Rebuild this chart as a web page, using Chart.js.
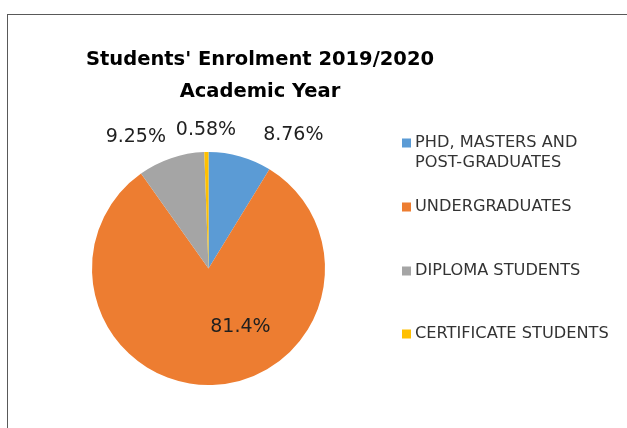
<!DOCTYPE html>
<html>
<head>
<meta charset="utf-8">
<script src="https://cdn.jsdelivr.net/npm/chart.js@4"></script>
<style>
    html, body { margin: 0; padding: 0; background: #fff; }
    #wrap { width: 627px; height: 428px; position: relative; }
</style>
</head>
<body>
<div id="wrap"><canvas id="enrolChart" width="627" height="428"></canvas></div>
<script>
// Dane wykresu
const titleLines = ["Students' Enrolment 2019/2020", 'Academic Year'];
const categories = [
    ['PHD, MASTERS AND', 'POST-GRADUATES'],
    ['UNDERGRADUATES'],
    ['DIPLOMA STUDENTS'],
    ['CERTIFICATE STUDENTS']
];
const shares = [8.76, 81.4, 9.25, 0.58];
const shareLabels = ['8.76%', '81.4%', '9.25%', '0.58%'];
const sliceColors = ['#5B9BD5', '#ED7D31', '#A5A5A5', '#FFC000'];

// Styl etykiet (inside / outside) i drobne przesunięcia jak w Excelu
const labelPlacement = ['outside', 'inside', 'outside', 'outside'];
const labelNudge = [[17, 0], [30, 0], [2, 0], [0, 0]];

const FONT = '"DejaVu Sans", sans-serif';

const excelDecor = {
    id: 'excelDecor',
    afterDraw(chart) {
        const ctx = chart.ctx;
        ctx.save();

        // Ramka obszaru wykresu
        ctx.strokeStyle = '#595959';
        ctx.lineWidth = 1;
        ctx.strokeRect(7.5, 14.5, 700, 500);

        // Tytuł
        ctx.fillStyle = '#000';
        ctx.font = 'bold 19.5px ' + FONT;
        ctx.textAlign = 'center';
        ctx.textBaseline = 'alphabetic';
        ctx.fillText(titleLines[0], 260, 65);
        ctx.fillText(titleLines[1], 260, 97);

        // Etykiety procentowe
        const meta = chart.getDatasetMeta(0);
        ctx.font = '19px ' + FONT;
        ctx.fillStyle = '#1f1f1f';
        ctx.textBaseline = 'middle';
        meta.data.forEach((arc, i) => {
            const mid = (arc.startAngle + arc.endAngle) / 2;
            const [dx, dy] = labelNudge[i];
            if (labelPlacement[i] === 'inside') {
                const p = arc.tooltipPosition();
                ctx.textAlign = 'center';
                ctx.fillText(shareLabels[i], p.x + dx, p.y + dy);
            } else {
                const r = arc.outerRadius + 22;
                const x = arc.x + Math.cos(mid) * r;
                const y = arc.y + Math.sin(mid) * r;
                const c = Math.cos(mid);
                ctx.textAlign = Math.abs(c) < 0.1 ? 'center' : (c > 0 ? 'left' : 'right');
                ctx.fillText(shareLabels[i], x + dx, y + dy);
            }
        });

        // Legenda
        const legendRows = [143, 207, 271, 334];
        ctx.font = '16.2px ' + FONT;
        ctx.textAlign = 'left';
        categories.forEach((lines, i) => {
            const y = legendRows[i];
            ctx.fillStyle = sliceColors[i];
            ctx.fillRect(402, y - 4.5, 9, 9);
            ctx.fillStyle = '#333333';
            lines.forEach((line, j) => {
                ctx.fillText(line, 415, y + j * 20);
            });
        });

        ctx.restore();
    }
};

const chart = new Chart(document.getElementById('enrolChart').getContext('2d'), {
    type: 'pie',
    data: {
        labels: categories.map(c => c.join(' ')),
        datasets: [{
            data: shares,
            backgroundColor: sliceColors,
            borderWidth: 0
        }]
    },
    options: {
        responsive: false,
        animation: false,
        layout: {
            padding: { left: 92, right: 302, top: 152, bottom: 43 }
        },
        plugins: {
            legend: { display: false },
            tooltip: { enabled: false },
            title: { display: false }
        }
    },
    plugins: [excelDecor]
});
</script>
</body>
</html>
